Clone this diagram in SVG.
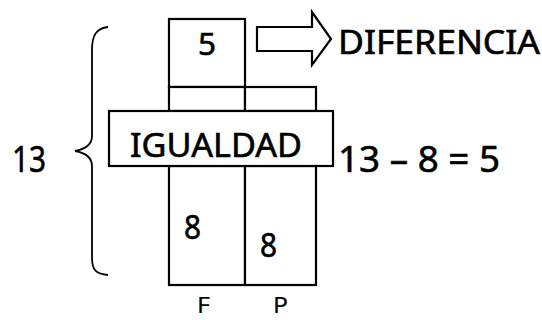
<svg xmlns="http://www.w3.org/2000/svg" width="542" height="320" viewBox="0 0 542 320">
  <style>
    .box { fill: #fff; stroke: #000; stroke-width: 2.2; }
    .txt { font-family: "Comic Sans MS", "Noto Sans", "DejaVu Sans", sans-serif; fill: #000; stroke: #000; stroke-width: 0.6; }
    .small { stroke-width: 0.2; }
    .brace { fill: none; stroke: #000; stroke-width: 1.8; }
  </style>
  <rect width="542" height="320" fill="#fff"/>

  <!-- brace spanning the whole column -->
  <g id="brace">
    <path class="brace" d="M108,27 C96,28 92,36 92,50 L92,136 C92,144 86,149 75,151 C86,153 92,158 92,166 L92,258 C92,270 96,274 108,275"/>
    <text class="txt" x="12" y="172" font-size="36" textLength="34" lengthAdjust="spacingAndGlyphs">13</text>
  </g>

  <!-- upper part: the difference -->
  <g id="diferencia-box">
    <rect class="box" x="169" y="19" width="76" height="68"/>
    <text class="txt" x="198" y="55" font-size="30" textLength="18" lengthAdjust="spacingAndGlyphs">5</text>
  </g>

  <g id="middle-row">
    <rect class="box" x="169" y="87" width="76" height="24"/>
    <rect class="box" x="245" y="87" width="71" height="24"/>
  </g>

  <!-- lower part: the equal amounts -->
  <g id="col-f">
    <rect class="box" x="169" y="166" width="76" height="119"/>
    <text class="txt" x="184" y="239" font-size="32" textLength="17" lengthAdjust="spacingAndGlyphs">8</text>
    <text class="txt small" x="197" y="313" font-size="22" textLength="13" lengthAdjust="spacingAndGlyphs">F</text>
  </g>
  <g id="col-p">
    <rect class="box" x="245" y="166" width="71" height="119"/>
    <text class="txt" x="260" y="257" font-size="32" textLength="17" lengthAdjust="spacingAndGlyphs">8</text>
    <text class="txt small" x="273" y="313" font-size="22" textLength="15" lengthAdjust="spacingAndGlyphs">P</text>
  </g>

  <g id="igualdad">
    <rect class="box" x="109" y="111" width="224" height="55"/>
    <text class="txt" x="130" y="157" font-size="32" textLength="172" lengthAdjust="spacingAndGlyphs">IGUALDAD</text>
  </g>

  <g id="connectors">
    <path class="box" d="M257,27 L312,27 L312,12 L331,39 L312,65 L312,51 L257,51 Z"/>
  </g>

  <g id="labels">
    <text class="txt" x="338" y="54" font-size="32" textLength="202" lengthAdjust="spacingAndGlyphs">DIFERENCIA</text>
    <text class="txt" x="338" y="172" font-size="37" textLength="162" lengthAdjust="spacingAndGlyphs">13 – 8 = 5</text>
  </g>
</svg>
